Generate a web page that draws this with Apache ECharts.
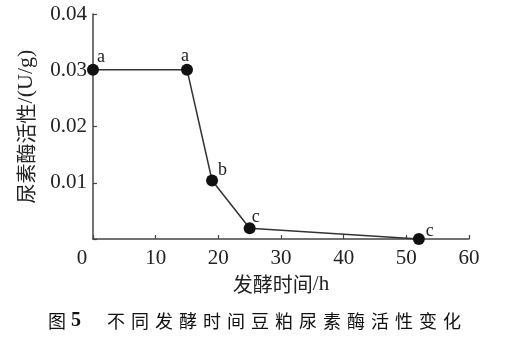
<!DOCTYPE html>
<html>
<head>
<meta charset="utf-8">
<script src="https://cdn.jsdelivr.net/npm/echarts@6/dist/echarts.min.js"></script>
<style>html,body{margin:0;padding:0;background:#fff}#c{width:532px;height:344px}</style>
</head>
<body>
<div id="c"></div>
<script>
const hours = [0, 15, 19, 25, 52];
const activity = [0.0301, 0.0301, 0.0104, 0.0019, 0.0000];
const letters = ['a', 'a', 'b', 'c', 'c'];
const xNameCjk = '发酵时间';
const xNameUnit = '/h';
const yNameCjk = '尿素酶活性';
const yNameUnit = '/(U/g)';
const captionLabel = '图';
const captionNum = '5';
const captionText = '不同发酵时间豆粕尿素酶活性变化';

const labelOffsets = [[-2, -12], [-12, -13], [0, -10], [-4, -11], [1, -8]];
const data = hours.map((h, i) => ({
  value: [h, activity[i]],
  label: { offset: labelOffsets[i] }
}));

const serif = '"Liberation Serif", "DejaVu Serif", serif';
const cjk = '"Noto Sans CJK SC", sans-serif';
const axisColor = '#444';

const chart = echarts.init(document.getElementById('c'), null, { renderer: 'canvas' });
chart.setOption({
  animation: false,
  backgroundColor: '#fff',
  title: {
    left: 43,
    top: 306,
    text: '{t|' + captionLabel + '}{n| ' + captionNum + '}{g|}{t|' + captionText.split('').join('\u2004') + '}',
    textStyle: {
      fontWeight: 'normal',
      rich: {
        t: { fontFamily: cjk, fontSize: 18, fontWeight: 'normal', color: '#111' },
        n: { fontFamily: serif, fontSize: 20, fontWeight: 'bold', color: '#111' },
        g: { width: 26 }
      }
    }
  },
  grid: { left: 93, right: 63, top: 14, bottom: 105 },
  xAxis: {
    type: 'value',
    min: 0, max: 60, interval: 10,
    name: '{c|' + xNameCjk + '}{u|' + xNameUnit + '}',
    nameLocation: 'middle',
    nameGap: 28,
    nameTextStyle: {
      rich: {
        c: { fontFamily: cjk, fontSize: 20, color: '#222' },
        u: { fontFamily: serif, fontSize: 21, color: '#222' }
      }
    },
    axisLine: { show: true, lineStyle: { color: axisColor, width: 1.5 } },
    axisTick: { show: true, inside: true, length: 4, lineStyle: { color: axisColor, width: 1.2 } },
    splitLine: { show: false },
    axisLabel: {
      margin: 9,
      fontFamily: serif, fontSize: 21, color: '#222',
      formatter: v => v === 0 ? '{z|0}' : String(v),
      rich: { z: { fontFamily: serif, fontSize: 21, color: '#222', padding: [0, 22, 0, 0] } }
    }
  },
  yAxis: {
    type: 'value',
    min: 0, max: 0.04, interval: 0.01,
    name: '{c|' + yNameCjk + '}{u|' + yNameUnit + '}',
    nameLocation: 'middle',
    nameGap: 56,
    nameTextStyle: {
      rich: {
        c: { fontFamily: cjk, fontSize: 20, color: '#222' },
        u: { fontFamily: serif, fontSize: 22, color: '#222' }
      }
    },
    axisLine: { show: true, lineStyle: { color: axisColor, width: 1.5 } },
    axisTick: { show: true, inside: true, length: 4, lineStyle: { color: axisColor, width: 1.2 } },
    splitLine: { show: false },
    axisLabel: {
      margin: 6,
      fontFamily: serif, fontSize: 21, color: '#222',
      formatter: v => v === 0 ? '' : v.toFixed(2)
    }
  },
  series: [{
    type: 'line',
    data: data,
    clip: false,
    symbol: 'circle',
    symbolSize: 12,
    itemStyle: { color: '#111' },
    lineStyle: { color: '#333', width: 1.5 },
    label: {
      show: true,
      position: 'right',
      distance: 0,
      fontFamily: serif, fontSize: 18, color: '#222',
      formatter: p => letters[p.dataIndex]
    }
  }]
});
</script>
</body>
</html>
